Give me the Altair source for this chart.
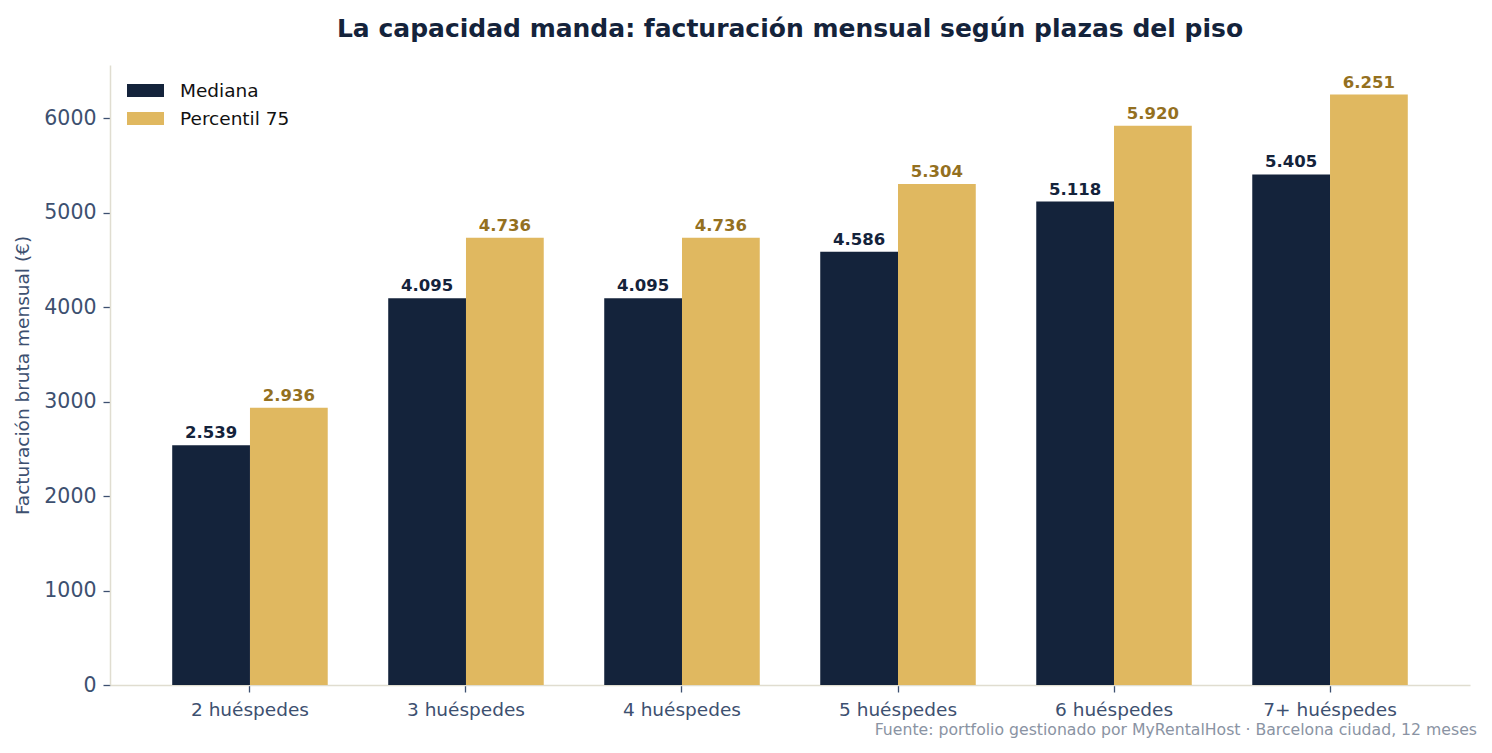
import altair as alt
import pandas as pd

categorias = ["2 huéspedes", "3 huéspedes", "4 huéspedes", "5 huéspedes", "6 huéspedes", "7+ huéspedes"]
mediana = [2539, 4095, 4095, 4586, 5118, 5405]
percentil75 = [2936, 4736, 4736, 5304, 5920, 6251]
series = ["Mediana", "Percentil 75"]
colores = ["#14233b", "#e0b860"]
colores_texto = ["#14233b", "#94701f"]

NAVY = "#14233b"
AXIS = "#e0ddd0"
TICK = "#3d5070"
FONT = "DejaVu Sans"

rows = []
for c, m, p in zip(categorias, mediana, percentil75):
    rows.append({"cat": c, "serie": "Mediana", "valor": m})
    rows.append({"cat": c, "serie": "Percentil 75", "valor": p})
df = pd.DataFrame(rows)
df["label"] = df["valor"].map(lambda v: f"{v:,}".replace(",", "."))

W, H = 1360, 620
ymax = max(percentil75) * 1.05

x_enc = alt.X("cat:N", sort=categorias, title=None,
              scale=alt.Scale(paddingInner=0.28, paddingOuter=0.288),
              axis=alt.Axis(labelAngle=0, labelFontSize=18.5, labelColor=TICK, labelFont=FONT,
                            tickColor=TICK, tickSize=7, tickWidth=1.3, labelPadding=8,
                            domainColor=AXIS, domainWidth=1.5))
xoff = alt.XOffset("serie:N", sort=series, scale=alt.Scale(paddingInner=0, paddingOuter=0))
y_enc = alt.Y("valor:Q", title="Facturación bruta mensual (€)",
              scale=alt.Scale(domain=[0, ymax], nice=False, zero=True),
              axis=alt.Axis(values=[0, 1000, 2000, 3000, 4000, 5000, 6000], grid=False, format="d",
                            labelFontSize=20.5, labelColor=TICK, labelFont=FONT,
                            tickColor=TICK, tickSize=7, tickWidth=1.3, labelPadding=7,
                            domainColor=AXIS, domainWidth=1.5,
                            titleFontSize=18.5, titleFont=FONT, titleColor=TICK,
                            titleFontWeight="normal", titlePadding=11))

base = alt.Chart(df)

bars = base.mark_bar().encode(
    x=x_enc, xOffset=xoff, y=y_enc,
    color=alt.Color("serie:N", sort=series,
                    scale=alt.Scale(domain=series, range=colores),
                    legend=alt.Legend(title=None, orient="none", legendX=17, legendY=7, padding=0,
                                      symbolType="M-1,-0.35L1,-0.35L1,0.35L-1,0.35Z",
                                      symbolSize=1369, symbolStrokeWidth=0,
                                      labelFontSize=18.5, labelFont=FONT, labelColor="#111111",
                                      labelOffset=16, rowPadding=0)),
)

texts = base.mark_text(baseline="bottom", dy=-4, fontSize=16.5, fontWeight="bold", font=FONT).encode(
    x=alt.X("cat:N", sort=categorias), xOffset=xoff, y=alt.Y("valor:Q"),
    text="label:N",
    color=alt.Color("serie:N", sort=series,
                    scale=alt.Scale(domain=series, range=colores_texto), legend=None),
)

nota = alt.Chart(pd.DataFrame({"t": ["Fuente: portfolio gestionado por MyRentalHost · Barcelona ciudad, 12 meses"]})).mark_text(
    align="right", baseline="middle", fontSize=15.7, font=FONT, color="#8a93a3"
).encode(text="t:N", x=alt.value(W + 7), y=alt.value(H + 45))

chart = alt.layer(bars, texts, nota).resolve_scale(color="independent").properties(
    width=W, height=H,
    background="white",
    title=alt.TitleParams("La capacidad manda: facturación mensual según plazas del piso",
                          fontSize=25, fontWeight="bold", color=NAVY, font=FONT,
                          anchor="middle", offset=23),
    autosize=alt.AutoSizeParams(type="none"),
    padding={"left": 102, "top": 57, "right": 14, "bottom": 60},
).configure_view(strokeWidth=0, stroke=None)

chart.save("out.html", embed_options={"renderer": "svg", "actions": False})
